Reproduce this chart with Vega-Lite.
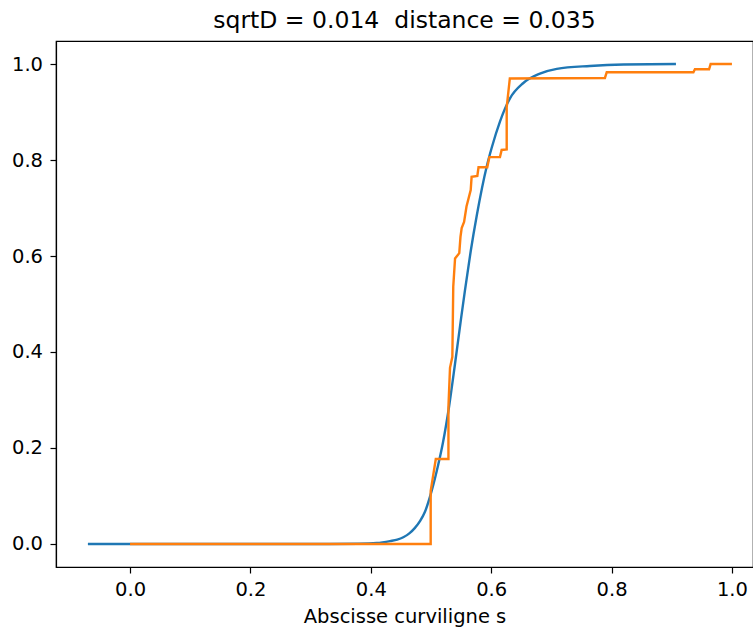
{
  "$schema": "https://vega.github.io/schema/vega-lite/v6.json",
  "width": 697,
  "height": 526,
  "autosize": {"type": "none"},
  "padding": {"left": 56, "top": 41, "right": 0, "bottom": 61},
  "background": "white",
  "config": {
    "font": "DejaVu Sans",
    "view": {"stroke": "black", "strokeWidth": 1.2},
    "axis": {
      "grid": false,
      "domainColor": "black",
      "domainWidth": 1.2,
      "tickColor": "black",
      "tickWidth": 1.2,
      "tickSize": 6,
      "labelFont": "DejaVu Sans",
      "labelFontSize": 19.5,
      "labelColor": "black",
      "titleFont": "DejaVu Sans",
      "titleFontSize": 19.5,
      "titleFontWeight": "normal",
      "titleColor": "black"
    }
  },
  "title": {
    "text": "sqrtD = 0.014\u00a0 distance = 0.035",
    "font": "DejaVu Sans",
    "fontSize": 23.5,
    "fontWeight": "normal",
    "color": "black",
    "anchor": "middle",
    "offset": 9
  },
  "datasets": {
    "model": [
      {"i": 0, "x": -0.07, "y": 0},
      {"i": 1, "x": 0.0, "y": 0},
      {"i": 2, "x": 0.2, "y": 0},
      {"i": 3, "x": 0.33, "y": 0.0},
      {"i": 4, "x": 0.38, "y": 0.0005},
      {"i": 5, "x": 0.41, "y": 0.002},
      {"i": 6, "x": 0.432, "y": 0.006},
      {"i": 7, "x": 0.444, "y": 0.009},
      {"i": 8, "x": 0.454, "y": 0.014},
      {"i": 9, "x": 0.464, "y": 0.022},
      {"i": 10, "x": 0.473, "y": 0.033},
      {"i": 11, "x": 0.482, "y": 0.048},
      {"i": 12, "x": 0.49, "y": 0.067},
      {"i": 13, "x": 0.501, "y": 0.11},
      {"i": 14, "x": 0.512, "y": 0.165},
      {"i": 15, "x": 0.52, "y": 0.212},
      {"i": 16, "x": 0.53, "y": 0.286},
      {"i": 17, "x": 0.54, "y": 0.376},
      {"i": 18, "x": 0.55, "y": 0.47},
      {"i": 19, "x": 0.5565, "y": 0.529},
      {"i": 20, "x": 0.566, "y": 0.61},
      {"i": 21, "x": 0.576, "y": 0.684},
      {"i": 22, "x": 0.5925, "y": 0.786},
      {"i": 23, "x": 0.601, "y": 0.826},
      {"i": 24, "x": 0.6146, "y": 0.88},
      {"i": 25, "x": 0.631, "y": 0.928},
      {"i": 26, "x": 0.653, "y": 0.96},
      {"i": 27, "x": 0.681, "y": 0.98},
      {"i": 28, "x": 0.709, "y": 0.99},
      {"i": 29, "x": 0.764, "y": 0.996},
      {"i": 30, "x": 0.82, "y": 0.999},
      {"i": 31, "x": 0.907, "y": 1.0}
    ],
    "data": [
      {"i": 0, "x": 0.0, "y": 0},
      {"i": 1, "x": 0.4995, "y": 0},
      {"i": 2, "x": 0.4995, "y": 0.11},
      {"i": 3, "x": 0.508, "y": 0.177},
      {"i": 4, "x": 0.529, "y": 0.177},
      {"i": 5, "x": 0.529, "y": 0.286},
      {"i": 6, "x": 0.5316, "y": 0.367},
      {"i": 7, "x": 0.5355, "y": 0.39},
      {"i": 8, "x": 0.537, "y": 0.536},
      {"i": 9, "x": 0.54, "y": 0.595},
      {"i": 10, "x": 0.547, "y": 0.606},
      {"i": 11, "x": 0.549, "y": 0.64},
      {"i": 12, "x": 0.551, "y": 0.658},
      {"i": 13, "x": 0.555, "y": 0.671},
      {"i": 14, "x": 0.559, "y": 0.703},
      {"i": 15, "x": 0.566, "y": 0.7375},
      {"i": 16, "x": 0.5675, "y": 0.765},
      {"i": 17, "x": 0.577, "y": 0.767},
      {"i": 18, "x": 0.579, "y": 0.785},
      {"i": 19, "x": 0.5935, "y": 0.785},
      {"i": 20, "x": 0.597, "y": 0.806},
      {"i": 21, "x": 0.6146, "y": 0.806},
      {"i": 22, "x": 0.6174, "y": 0.821},
      {"i": 23, "x": 0.6258, "y": 0.822},
      {"i": 24, "x": 0.6258, "y": 0.91},
      {"i": 25, "x": 0.631, "y": 0.97},
      {"i": 26, "x": 0.789, "y": 0.971},
      {"i": 27, "x": 0.792, "y": 0.983},
      {"i": 28, "x": 0.936, "y": 0.983},
      {"i": 29, "x": 0.9385, "y": 0.989},
      {"i": 30, "x": 0.962, "y": 0.989},
      {"i": 31, "x": 0.9646, "y": 1.0},
      {"i": 32, "x": 1.0, "y": 1.0}
    ]
  },
  "encoding": {
    "x": {
      "field": "x", "type": "quantitative",
      "scale": {"domain": [-0.123, 1.035], "nice": false, "zero": false},
      "axis": {"values": [0, 0.2, 0.4, 0.6, 0.8, 1.0], "format": ".1f", "title": "Abscisse curviligne s", "labelPadding": 7, "titlePadding": 8.5}
    },
    "y": {
      "field": "y", "type": "quantitative",
      "scale": {"domain": [-0.048, 1.048], "nice": false, "zero": false},
      "axis": {"values": [0, 0.2, 0.4, 0.6, 0.8, 1.0], "format": ".1f", "title": null, "labelPadding": 7.5}
    },
    "order": {"field": "i", "type": "quantitative"}
  },
  "layer": [
    {
      "data": {"name": "model"},
      "mark": {"type": "line", "strokeWidth": 2.4, "color": "#1f77b4", "interpolate": "monotone", "clip": true}
    },
    {
      "data": {"name": "data"},
      "mark": {"type": "line", "strokeWidth": 2.4, "color": "#ff7f0e", "clip": true}
    }
  ]
}
